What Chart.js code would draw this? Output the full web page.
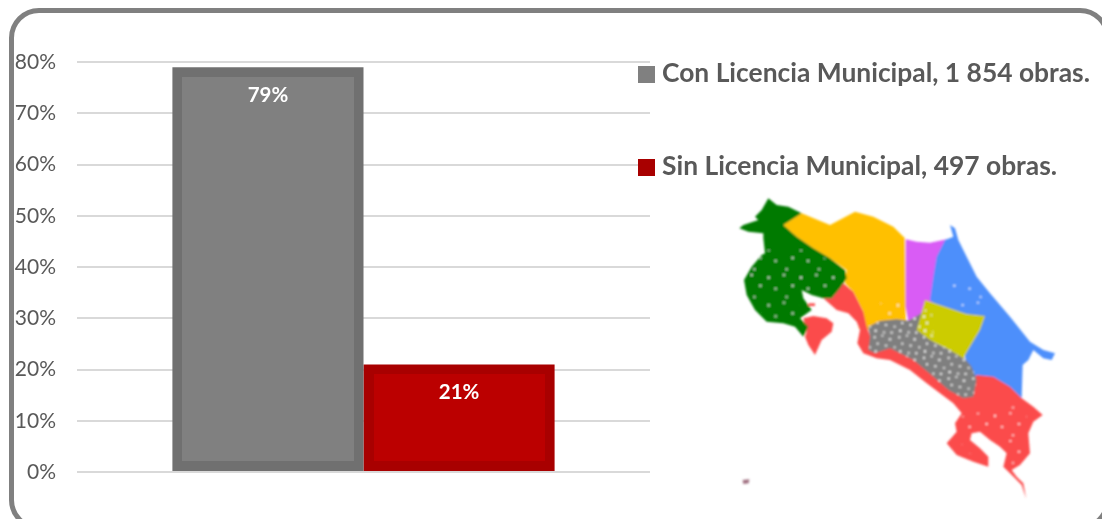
<!DOCTYPE html>
<html lang="es">
<head>
<meta charset="utf-8">
<title>Obras con y sin licencia municipal</title>
<script src="https://cdn.jsdelivr.net/npm/chart.js@4"></script>
<style>
  html, body { margin: 0; padding: 0; background: #fff; overflow: hidden; }
  #wrap { position: relative; width: 1102px; height: 519px; overflow: hidden; }
  #frame { position: absolute; left: 9px; top: 8px; width: 1091px; height: 512px;
    border: 5px solid #808080; border-radius: 30px; }
  #chart { position: absolute; left: 0; top: 0; }
  #map { position: absolute; left: 700px; top: 190px; width: 380px; height: 320px; }
  .leg { position: absolute; left: 638px; font: bold 26.4px Lato, sans-serif; color: #595959;
    white-space: nowrap; line-height: 30px; }
  .leg i { display: inline-block; width: 17px; height: 17px; margin-right: 7px; vertical-align: -1px; }
</style>
</head>
<body>
<div id="wrap">
  <div id="frame"></div>
  <canvas id="chart" width="1102" height="519"></canvas>
  <svg id="map" viewBox="0 0 1140 960">
    <defs>
      <filter id="soft"><feGaussianBlur stdDeviation="3"/></filter>
      <pattern id="specks" width="74" height="62" patternUnits="userSpaceOnUse">
        <circle cx="6" cy="8" r="3.4" fill="#fff"/>
        <circle cx="29" cy="3" r="3" fill="#fff"/>
        <circle cx="52" cy="14" r="3.6" fill="#fff"/>
        <circle cx="15" cy="27" r="3.2" fill="#fff"/>
        <circle cx="40" cy="33" r="3.4" fill="#fff"/>
        <circle cx="66" cy="38" r="3" fill="#fff"/>
        <circle cx="9" cy="50" r="3.6" fill="#fff"/>
        <circle cx="34" cy="55" r="3" fill="#fff"/>
        <circle cx="57" cy="56" r="3.4" fill="#fff"/>
      </pattern>
      <pattern id="sparse" width="97" height="83" patternUnits="userSpaceOnUse">
        <circle cx="12" cy="14" r="3.4" fill="#fff"/>
        <circle cx="58" cy="6" r="3" fill="#fff"/>
        <circle cx="84" cy="38" r="3.4" fill="#fff"/>
        <circle cx="33" cy="47" r="3.2" fill="#fff"/>
        <circle cx="66" cy="72" r="3" fill="#fff"/>
      </pattern>
      <polygon id="greenZone" points="205,25 230,45 265,50 305,70 250,105 290,140 340,175 390,205 435,240 440,265 420,295 395,325 370,325 335,315 305,300 310,325 335,360 300,385 325,410 310,440 285,410 250,400 200,395 165,360 140,315 132,270 155,230 185,195 195,190 190,145 190,130 145,125 118,115 130,105 175,90 165,80 185,60"/>
      <polygon id="grayZone" points="505,410 540,393 590,388 625,392 655,375 690,350 700,400 700,455 790,500 815,530 830,570 820,620 790,625 745,600 700,560 640,510 570,475 525,490 505,480 510,440"/>
      <clipPath id="greenClip"><polygon points="150,240 200,180 340,180 425,240 425,285 385,320 300,295 300,385 200,390 150,320"/></clipPath>
      <clipPath id="grayClip"><use href="#grayZone"/></clipPath>
      <clipPath id="restClip">
        <polygon points="780,680 960,640 990,700 970,800 930,830 900,765 840,725 790,740"/>
        <polygon points="540,340 612,340 612,385 530,385"/>
        <polygon points="740,270 830,270 860,340 770,350"/>
        <polygon points="760,750 800,770 850,800 800,790"/>
      </clipPath>
    </defs>
    <g filter="url(#soft)">
      <polygon fill="#ffc000" points="250,105 305,70 390,105 465,65 520,80 580,110 615,145 618,400 520,420 475,415 490,365 460,305 435,280 440,240 390,205 340,175 290,140"/>
      <polygon fill="#d95cf5" points="617,148 650,155 690,158 740,148 720,260 700,340 650,385 625,395 617,350"/>
      <polygon fill="#4d8ffb" points="735,150 760,140 750,105 765,115 775,150 800,200 830,260 870,310 930,380 990,455 1030,480 1065,490 1055,510 1030,505 1000,480 985,510 968,525 965,625 930,600 880,570 810,560 790,480 770,400 690,330 700,260 710,200"/>
      <polygon fill="#fb4b4b" points="370,325 395,325 430,280 460,305 490,365 500,410 515,450 560,440 700,520 800,590 830,555 880,560 930,590 965,625 1000,650 1028,675 1000,695 985,730 990,790 960,825 935,840 950,860 970,880 978,925 965,885 930,850 910,830 920,790 900,770 870,750 840,725 815,730 810,750 840,775 865,800 865,830 820,815 770,795 740,760 770,725 765,700 785,670 760,640 720,610 680,580 630,540 570,510 530,505 490,490 472,460 480,420 470,395 445,370 410,360"/>
      <polygon fill="#fb4b4b" points="310,385 340,378 380,385 400,400 395,425 365,450 345,495 325,465 315,440 320,425"/>
      <use href="#grayZone" fill="#7f7f7f"/>
      <polygon fill="#cccc00" points="675,330 740,352 800,372 855,378 840,420 810,470 790,505 740,475 690,450 650,420 660,385"/>
      <use href="#greenZone" fill="#007a00"/>
      <polygon fill="#fb4b4b" points="325,340 345,340 345,348 325,348"/>
      <polygon fill="#a07080" points="128,870 148,868 146,880 130,882"/>
      <rect width="1140" height="960" fill="url(#specks)" clip-path="url(#grayClip)"/>
      <rect width="1140" height="960" fill="url(#sparse)" clip-path="url(#greenClip)"/>
      <rect width="1140" height="960" fill="url(#sparse)" clip-path="url(#restClip)"/>
    </g>
  </svg>
  <div id="legend"></div>
</div>
<script>
"use strict";

const categories = [""];
const seriesNames = ["Con Licencia Municipal, 1 854 obras.", "Sin Licencia Municipal, 497 obras."];
const conLicencia = [79];
const sinLicencia = [21];
const fills = ["#808080", "#bb0000"];
const edges = ["#707070", "#a80000"];
const legendTops = [57, 150];

// Relleno interior y etiqueta blanca de cada barra, sobre su borde oscuro.
const barLabels = {
  id: "barLabels",
  afterDatasetsDraw(chart) {
    const ctx = chart.ctx;
    ctx.save();
    ctx.font = "bold 20.5px Lato, sans-serif";
    ctx.textAlign = "center";
    ctx.textBaseline = "middle";
    chart.data.datasets.forEach((ds, i) => {
      const bar = chart.getDatasetMeta(i).data[0];
      const inset = 10;
      const left = Math.round(bar.x - bar.width / 2) + inset;
      const right = Math.round(bar.x + bar.width / 2) - inset;
      const top = Math.round(bar.y) + inset;
      const bottom = Math.round(bar.base) - inset;
      ctx.fillStyle = fills[i];
      ctx.fillRect(left, top, right - left, bottom - top);
      ctx.fillStyle = "#fff";
      ctx.fillText(ds.data[0] + "%", bar.x, bar.y + 28);
    });
    ctx.restore();
  },
};

new Chart(document.getElementById("chart"), {
  type: "bar",
  data: {
    labels: categories,
    datasets: [
      { label: seriesNames[0], data: conLicencia, backgroundColor: edges[0] },
      { label: seriesNames[1], data: sinLicencia, backgroundColor: edges[1] },
    ],
  },
  options: {
    responsive: false,
    animation: false,
    layout: { padding: { top: 62, right: 452, bottom: 47, left: 0 } },
    datasets: { bar: { categoryPercentage: 0.667, barPercentage: 1, borderWidth: 0 } },
    plugins: { legend: { display: false }, tooltip: { enabled: false } },
    scales: {
      x: { display: false },
      y: {
        min: 0,
        max: 80,
        afterFit: (scale) => { scale.width = 77; },
        border: { display: false },
        grid: { color: "#d9d9d9", lineWidth: 2, drawTicks: false },
        ticks: {
          stepSize: 10,
          padding: 21,
          color: "#595959",
          font: { family: "Lato, sans-serif", size: 21 },
          callback: (v) => v + "%",
        },
      },
    },
  },
  plugins: [barLabels],
});

// Leyenda a la derecha, sobre las líneas de la cuadrícula.
const legend = document.getElementById("legend");
seriesNames.forEach((name, i) => {
  const row = document.createElement("div");
  row.className = "leg";
  row.style.top = legendTops[i] + "px";
  row.innerHTML = `<i style="background:${i ? edges[1] : fills[0]}"></i>${name}`;
  legend.appendChild(row);
});
</script>
</body>
</html>
